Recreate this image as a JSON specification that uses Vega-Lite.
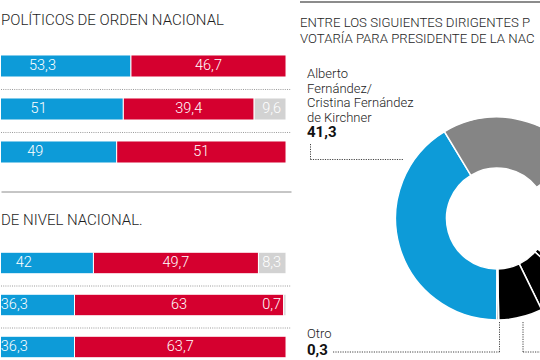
{
  "$schema": "https://vega.github.io/schema/vega-lite/v6.json",
  "padding": 0,
  "background": "white",
  "spacing": 7,
  "resolve": {"scale": {"color": "independent"}},
  "config": {
    "view": {"stroke": null},
    "font": "Roboto",
    "locale": {"number": {"decimal": ",", "thousands": ".", "grouping": [3], "currency": ["$", ""]}},
    "title": {"font": "Roboto", "fontWeight": 300, "color": "#1e1e1e", "anchor": "start", "frame": "group"}
  },
  "datasets": {
    "arriba": [
      {"fila": "F1", "opcion": "Opción 1", "valor": 53.3},
      {"fila": "F1", "opcion": "Opción 2", "valor": 46.7},
      {"fila": "F2", "opcion": "Opción 1", "valor": 51},
      {"fila": "F2", "opcion": "Opción 2", "valor": 39.4},
      {"fila": "F2", "opcion": "Opción 3", "valor": 9.6},
      {"fila": "F3", "opcion": "Opción 1", "valor": 49},
      {"fila": "F3", "opcion": "Opción 2", "valor": 51}
    ],
    "abajo": [
      {"fila": "F1", "opcion": "Opción 1", "valor": 42},
      {"fila": "F1", "opcion": "Opción 2", "valor": 49.7},
      {"fila": "F1", "opcion": "Opción 3", "valor": 8.3},
      {"fila": "F2", "opcion": "Opción 1", "valor": 36.3},
      {"fila": "F2", "opcion": "Opción 2", "valor": 63},
      {"fila": "F2", "opcion": "Opción 3", "valor": 0.7},
      {"fila": "F3", "opcion": "Opción 1", "valor": 36.3},
      {"fila": "F3", "opcion": "Opción 2", "valor": 63.7}
    ],
    "dona": [
      {"nombre": "Ns/Nc", "orden": 1, "valor": 20.8},
      {"nombre": "Candidato E", "orden": 2, "valor": 1.25},
      {"nombre": "Candidato D", "orden": 3, "valor": 6.25},
      {"nombre": "Candidato C", "orden": 4, "valor": 7.0},
      {"nombre": "Otro", "orden": 5, "valor": 0.3},
      {"nombre": "Alberto Fernández/Cristina Fernández de Kirchner", "orden": 6, "valor": 41.3},
      {"nombre": "Candidato B", "orden": 7, "valor": 23.1}
    ],
    "etiquetas": [
      {"nombre": "Alberto\nFernández/\nCristina Fernández\nde Kirchner", "valor": 41.3},
      {"nombre": "Otro", "valor": 0.3}
    ]
  },
  "hconcat": [
    {
      "spacing": 21,
      "vconcat": [
        {
          "width": 290,
          "height": 173.5,
          "title": {"text": "POLÍTICOS DE ORDEN NACIONAL", "fontSize": 15, "offset": -28},
          "data": {"name": "arriba"},
          "transform": [
            {"stack": "valor", "groupby": ["fila"], "sort": [{"field": "opcion"}], "as": ["v0", "v1"]},
            {"calculate": "(datum.v0 + datum.v1) / 2", "as": "vm"}
          ],
          "encoding": {
            "y": {"field": "fila", "type": "nominal", "axis": null, "scale": {"paddingInner": 0, "paddingOuter": 0.5174, "align": 1}}
          },
          "layer": [
            {
              "mark": {"type": "bar", "clip": true, "stroke": "white", "strokeWidth": 1, "height": {"band": 0.512}},
              "encoding": {
                "x": {"field": "v0", "type": "quantitative", "scale": {"domain": [14.16, 101.5], "nice": false, "zero": false},
                      "axis": {"orient": "bottom", "offset": 18, "labels": false, "ticks": false, "grid": false, "title": null, "domainColor": "#8c8c8c", "domainWidth": 1}},
                "x2": {"field": "v1"},
                "color": {"field": "opcion", "type": "nominal", "legend": null,
                          "scale": {"domain": ["Opción 1", "Opción 2", "Opción 3"], "range": ["#0d9bd8", "#d5002f", "#d2d2d2"]}}
              }
            },
            {
              "transform": [{"filter": "datum.opcion != 'Opción 3'"}],
              "mark": {"type": "text", "color": "white", "fontSize": 14.5, "fontWeight": 300, "baseline": "middle"},
              "encoding": {
                "x": {"field": "vm", "type": "quantitative", "scale": {"domain": [14.16, 101.5], "nice": false, "zero": false}},
                "text": {"field": "valor", "type": "quantitative", "format": ".3~r"}
              }
            },
            {
              "transform": [{"filter": "datum.opcion == 'Opción 3'"}],
              "mark": {"type": "text", "color": "white", "fontSize": 14.5, "fontWeight": 300, "baseline": "middle", "align": "right", "dx": -5},
              "encoding": {
                "x": {"field": "v1", "type": "quantitative", "scale": {"domain": [14.16, 101.5], "nice": false, "zero": false}},
                "text": {"field": "valor", "type": "quantitative", "format": ".3~r"}
              }
            },
            {
              "transform": [{"filter": "datum.opcion == 'Opción 1' && datum.fila != 'F1'"}],
              "mark": {"type": "rule", "color": "#9a9a9a", "strokeWidth": 1, "strokeDash": [1, 1.2]},
              "encoding": {"x": {"value": 0}, "x2": {"value": 290}, "y": {"field": "fila", "type": "nominal"}, "yOffset": {"value": 2}}
            }
          ]
        },
        {
          "width": 290,
          "height": 126,
          "title": {"text": "DE NIVEL NACIONAL.", "fontSize": 15, "offset": 14},
          "data": {"name": "abajo"},
          "transform": [
            {"stack": "valor", "groupby": ["fila"], "sort": [{"field": "opcion"}], "as": ["v0", "v1"]},
            {"calculate": "(datum.v0 + datum.v1) / 2", "as": "vm"}
          ],
          "encoding": {
            "y": {"field": "fila", "type": "nominal", "axis": null, "scale": {"paddingInner": 0, "paddingOuter": 0}}
          },
          "layer": [
            {
              "mark": {"type": "bar", "clip": true, "stroke": "white", "strokeWidth": 1, "height": {"band": 0.512}},
              "encoding": {
                "x": {"field": "v0", "type": "quantitative", "scale": {"domain": [14.16, 101.5], "nice": false, "zero": false}, "axis": null},
                "x2": {"field": "v1"},
                "color": {"field": "opcion", "type": "nominal", "legend": null,
                          "scale": {"domain": ["Opción 1", "Opción 2", "Opción 3"], "range": ["#0d9bd8", "#d5002f", "#d2d2d2"]}}
              }
            },
            {
              "transform": [{"filter": "datum.opcion != 'Opción 3'"}],
              "mark": {"type": "text", "color": "white", "fontSize": 14.5, "fontWeight": 300, "baseline": "middle"},
              "encoding": {
                "x": {"field": "vm", "type": "quantitative", "scale": {"domain": [14.16, 101.5], "nice": false, "zero": false}},
                "text": {"field": "valor", "type": "quantitative", "format": ".3~r"}
              }
            },
            {
              "transform": [{"filter": "datum.opcion == 'Opción 3'"}],
              "mark": {"type": "text", "color": "white", "fontSize": 14.5, "fontWeight": 300, "baseline": "middle", "align": "right", "dx": -5},
              "encoding": {
                "x": {"field": "v1", "type": "quantitative", "scale": {"domain": [14.16, 101.5], "nice": false, "zero": false}},
                "text": {"field": "valor", "type": "quantitative", "format": ".3~r"}
              }
            },
            {
              "transform": [{"filter": "datum.opcion == 'Opción 1' && datum.fila != 'F1'"}],
              "mark": {"type": "rule", "color": "#9a9a9a", "strokeWidth": 1, "strokeDash": [1, 1.2]},
              "encoding": {"x": {"value": 0}, "x2": {"value": 290}, "y": {"field": "fila", "type": "nominal"}, "yOffset": {"value": 2}}
            }
          ]
        }
      ]
    },
    {
      "width": 394,
      "height": 437,
      "title": {"text": ["ENTRE LOS SIGUIENTES DIRIGENTES P", "VOTARÍA PARA PRESIDENTE DE LA NAC"], "fontSize": 13.2, "lineHeight": 16, "offset": -46},
      "resolve": {"scale": {"y": "independent"}},
      "layer": [
        {
          "data": {"name": "dona"},
          "mark": {"type": "arc", "outerRadius": 101.5, "innerRadius": 50.5, "stroke": "white", "strokeWidth": 1.5},
          "encoding": {
            "theta": {"field": "valor", "type": "quantitative", "stack": true, "scale": {"domain": [0, 100], "range": [0.9076, 7.1908]}},
            "order": {"field": "orden", "type": "quantitative"},
            "color": {"field": "nombre", "type": "nominal", "legend": null,
                      "scale": {"domain": ["Ns/Nc", "Candidato E", "Candidato D", "Candidato C", "Otro", "Alberto Fernández/Cristina Fernández de Kirchner", "Candidato B"],
                                "range": ["#ffffff", "#000000", "#000000", "#000000", "#000000", "#0d9bd8", "#858585"]}}
          }
        },
        {
          "data": {"values": [{}]},
          "mark": {"type": "rule", "color": "#8c8c8c", "strokeWidth": 2},
          "encoding": {"x": {"value": 0}, "x2": {"value": 394}, "y": {"value": 2}}
        },
        {
          "data": {"name": "etiquetas"},
          "mark": {"type": "text", "align": "left", "baseline": "alphabetic", "fontSize": 13, "fontWeight": 300, "color": "#222", "lineBreak": "\n", "lineHeight": 14.6, "x": 7},
          "encoding": {
            "y": {"field": "nombre", "type": "nominal", "axis": null, "scale": {"type": "point", "padding": 0, "domain": ["Alberto\nFernández/\nCristina Fernández\nde Kirchner", "Otro"], "range": [78, 338]}},
            "text": {"field": "nombre"}
          }
        },
        {
          "data": {"name": "etiquetas"},
          "mark": {"type": "text", "align": "left", "baseline": "alphabetic", "fontSize": 15, "fontWeight": "bold", "color": "#111", "x": 7},
          "encoding": {
            "y": {"field": "nombre", "type": "nominal", "axis": null, "scale": {"type": "point", "padding": 0, "domain": ["Alberto\nFernández/\nCristina Fernández\nde Kirchner", "Otro"], "range": [137, 355]}},
            "text": {"field": "valor", "type": "quantitative", "format": ".3~r"}
          }
        },
        {
          "data": {"values": [{}]},
          "mark": {"type": "rule", "color": "#444", "strokeWidth": 1, "strokeDash": [1.2, 1.2]},
          "encoding": {"x": {"value": 10.5}, "y": {"value": 144}, "y2": {"value": 159.5}}
        },
        {
          "data": {"values": [{}]},
          "mark": {"type": "rule", "color": "#444", "strokeWidth": 1, "strokeDash": [1.2, 1.2]},
          "encoding": {"x": {"value": 10.5}, "x2": {"value": 103}, "y": {"value": 159.5}}
        },
        {
          "data": {"values": [{}]},
          "mark": {"type": "rule", "color": "#444", "strokeWidth": 1, "strokeDash": [1.2, 1.2]},
          "encoding": {"x": {"value": 33}, "x2": {"value": 199.5}, "y": {"value": 352}}
        },
        {
          "data": {"values": [{}]},
          "mark": {"type": "rule", "color": "#444", "strokeWidth": 1, "strokeDash": [1.2, 1.2]},
          "encoding": {"x": {"value": 199.5}, "y": {"value": 322}, "y2": {"value": 352}}
        },
        {
          "data": {"values": [{}]},
          "mark": {"type": "rule", "color": "#444", "strokeWidth": 1, "strokeDash": [1.2, 1.2]},
          "encoding": {"x": {"value": 223}, "y": {"value": 322}, "y2": {"value": 352}}
        },
        {
          "data": {"values": [{}]},
          "mark": {"type": "rule", "color": "#444", "strokeWidth": 1, "strokeDash": [1.2, 1.2]},
          "encoding": {"x": {"value": 223}, "x2": {"value": 260}, "y": {"value": 352}}
        }
      ]
    }
  ]
}
